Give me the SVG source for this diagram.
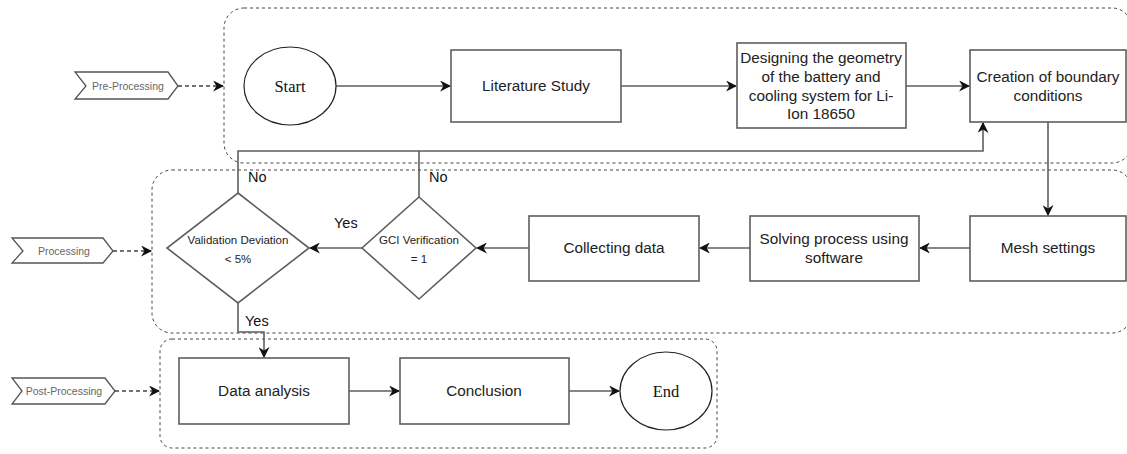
<svg xmlns="http://www.w3.org/2000/svg" width="1127" height="454" viewBox="0 0 1127 454">
<defs>
<marker id="arrL" viewBox="0 0 10 10" refX="9" refY="5" markerWidth="11" markerHeight="11" markerUnits="userSpaceOnUse" orient="auto">
<path d="M0,0 L10,5 L0,10 L3,5 Z" fill="#111"/>
</marker>
</defs>
<style>
.box{fill:#fff;stroke:#5e5e5e;stroke-width:1.6}
.ell{fill:#fff;stroke:#222;stroke-width:1.2}
.cont{fill:none;stroke:#444;stroke-width:1;stroke-dasharray:3 3}
.tag{fill:#fff;stroke:#555;stroke-width:1.3}
.t{font-family:"Liberation Sans",Arial,sans-serif;font-size:15.3px;fill:#222;text-anchor:middle}
.s{font-family:"Liberation Serif","Times New Roman",serif;font-size:16.5px;fill:#111;text-anchor:middle}
.d{font-family:"Liberation Sans",Arial,sans-serif;font-size:11.5px;fill:#222;text-anchor:middle}
.g{font-family:"Liberation Sans",Arial,sans-serif;font-size:10.5px;fill:#666;text-anchor:middle}
.lbl{font-family:"Liberation Sans",Arial,sans-serif;font-size:14.5px;fill:#111}
.c{fill:none;stroke:#5e5e5e;stroke-width:1.6}
.dc{fill:none;stroke:#444;stroke-width:1.3;stroke-dasharray:4 3}
</style>
<g id="containers">
<rect class="cont" x="224" y="8" width="908" height="155" rx="20"/>
<rect class="cont" x="152" y="170" width="980" height="163" rx="20"/>
<rect class="cont" x="160" y="339" width="557" height="109" rx="12"/>
</g>
<g id="tag-pre"><polygon class="tag" points="75,72 168,72 178,86 168,99 75,99 86,86"/><text class="g" x="128" y="90">Pre-Processing</text></g>
<g id="tag-proc"><polygon class="tag" points="12,238 103,238 113,251 103,263 12,263 23,251"/><text class="g" x="64" y="255">Processing</text></g>
<g id="tag-post"><polygon class="tag" points="12,378 105,378 115,391 105,404 12,404 22,391"/><text class="g" x="64" y="395">Post-Processing</text></g>
<g id="connectors">
<line class="dc" x1="178" y1="86" x2="223" y2="86" marker-end="url(#arrL)"/>
<line class="dc" x1="113" y1="251" x2="151" y2="251" marker-end="url(#arrL)" stroke-dasharray="6 3 2 3"/>
<line class="dc" x1="115" y1="391" x2="159" y2="391" marker-end="url(#arrL)" stroke-dasharray="3 3"/>
<line class="c" x1="336" y1="86" x2="450" y2="86" marker-end="url(#arrL)"/>
<line class="c" x1="621" y1="86" x2="736" y2="86" marker-end="url(#arrL)"/>
<line class="c" x1="906" y1="86" x2="969" y2="86" marker-end="url(#arrL)"/>
<line class="c" x1="1048" y1="122" x2="1048" y2="215" marker-end="url(#arrL)"/>
<line class="c" x1="970" y1="248" x2="920" y2="248" marker-end="url(#arrL)"/>
<line class="c" x1="750" y1="248" x2="700" y2="248" marker-end="url(#arrL)"/>
<line class="c" x1="529" y1="248" x2="477" y2="248" marker-end="url(#arrL)"/>
<line class="c" x1="362" y1="248" x2="310" y2="248" marker-end="url(#arrL)"/>
<polyline class="c" points="238,193 238,151 983,151 983,123" marker-end="url(#arrL)"/>
<line class="c" x1="419" y1="197" x2="419" y2="151"/>
<polyline class="c" points="238,303 238,332 264,332 264,357" marker-end="url(#arrL)"/>
<line class="c" x1="349" y1="391" x2="399" y2="391" marker-end="url(#arrL)"/>
<line class="c" x1="569" y1="391" x2="619" y2="391" marker-end="url(#arrL)"/>
</g>
<g id="start"><ellipse class="ell" cx="290" cy="86" rx="46" ry="39"/><text class="s" x="290" y="92">Start</text></g>
<g id="literature"><rect class="box" x="451" y="50" width="170" height="72"/><text class="t" x="536" y="91">Literature Study</text></g>
<g id="designing"><rect class="box" x="737" y="43" width="169" height="85"/>
<text class="t" x="821" y="63">Designing the geometry</text>
<text class="t" x="821" y="82">of the battery and</text>
<text class="t" x="821" y="101">cooling system for Li-</text>
<text class="t" x="821" y="119">Ion 18650</text></g>
<g id="creation"><rect class="box" x="970" y="50" width="156" height="72"/>
<text class="t" x="1048" y="82">Creation of boundary</text>
<text class="t" x="1048" y="101">conditions</text></g>
<g id="mesh"><rect class="box" x="970" y="216" width="156" height="65"/><text class="t" x="1048" y="253">Mesh settings</text></g>
<g id="solving"><rect class="box" x="750" y="216" width="169" height="65"/>
<text class="t" x="834" y="244">Solving process using</text>
<text class="t" x="834" y="263">software</text></g>
<g id="collecting"><rect class="box" x="529" y="216" width="170" height="65"/><text class="t" x="614" y="253">Collecting data</text></g>
<g id="gci"><polygon class="box" points="419,197 476,248 419,299 362,248"/>
<text class="d" x="419" y="244">GCI Verification</text>
<text class="d" x="419" y="263">= 1</text></g>
<g id="validation"><polygon class="box" points="238,193 309,248 238,303 167,248"/>
<text class="d" x="238" y="244">Validation Deviation</text>
<text class="d" x="238" y="263">&lt; 5%</text></g>
<g id="data-analysis"><rect class="box" x="179" y="358" width="170" height="66"/><text class="t" x="264" y="396">Data analysis</text></g>
<g id="conclusion"><rect class="box" x="400" y="358" width="169" height="66"/><text class="t" x="484" y="396">Conclusion</text></g>
<g id="end"><ellipse class="ell" cx="666" cy="391" rx="46" ry="39"/><text class="s" x="666" y="397">End</text></g>
<g id="labels">
<text class="lbl" x="248" y="182">No</text>
<text class="lbl" x="429" y="182">No</text>
<text class="lbl" x="334" y="228">Yes</text>
<text class="lbl" x="245" y="326">Yes</text>
</g>
</svg>
